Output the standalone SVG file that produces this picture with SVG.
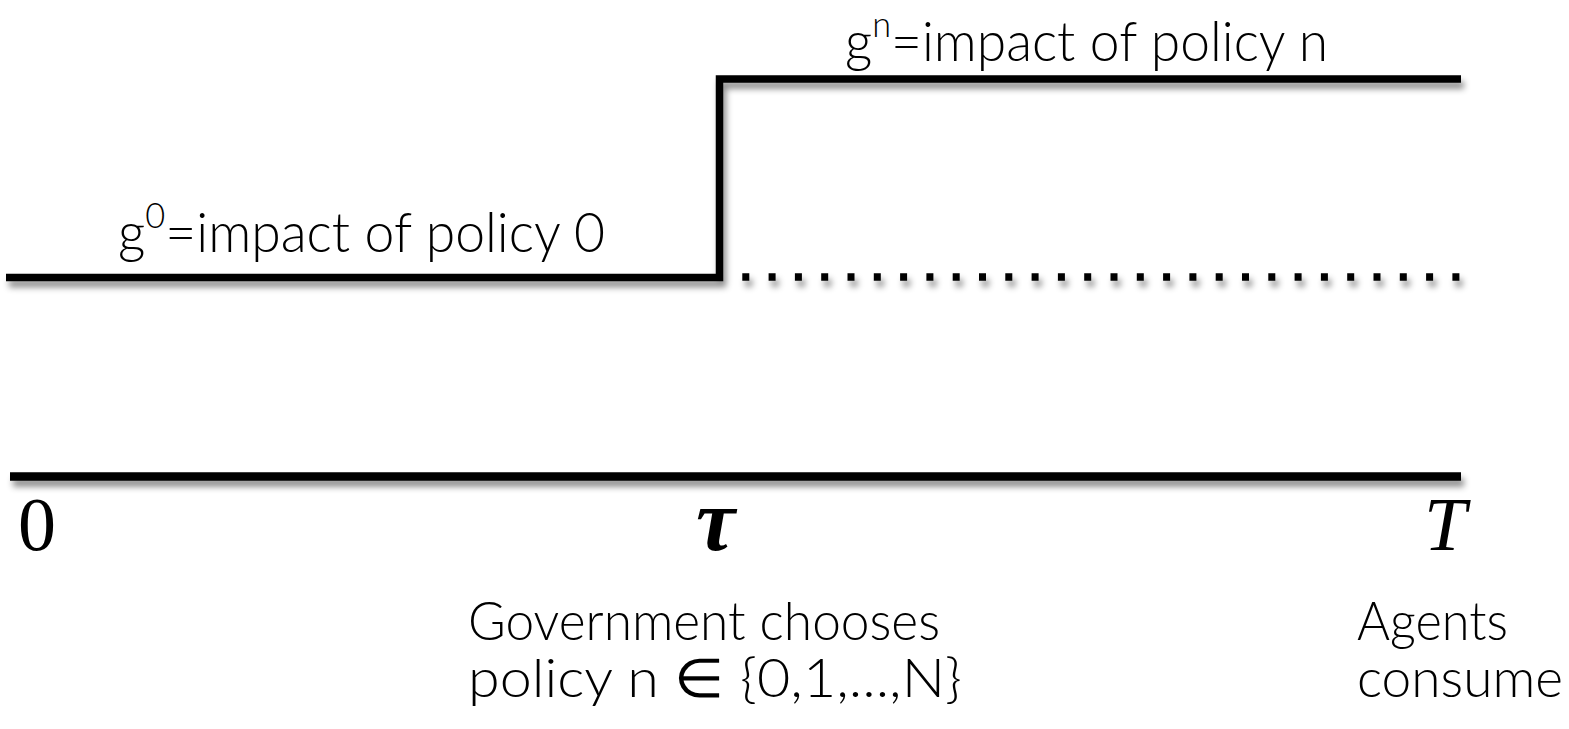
<svg xmlns="http://www.w3.org/2000/svg" width="1569" height="729" viewBox="0 0 1569 729">
<style>
.ln{fill:none;stroke:#000;stroke-linecap:butt;stroke-linejoin:miter;}
.lbl{font-family:"Lato","Liberation Sans",sans-serif;font-weight:300;font-size:56px;fill:#000;}
.sm{font-size:54px;}
.sup{font-size:36px;}
.ser{font-family:"Liberation Serif","DejaVu Serif",serif;fill:#000;}
</style>
<defs>
<filter id="sh" x="-5%" y="-20%" width="110%" height="160%">
<feDropShadow dx="3" dy="6" stdDeviation="3" flood-color="#000" flood-opacity="0.45"/>
</filter>
</defs>
<g id="connectors" filter="url(#sh)">
<path id="step" class="ln" stroke-width="7.5" d="M6,277.5 H719.5 V79 H1461"/>
<line id="dotted" class="ln" x1="716" y1="277" x2="1462" y2="277" stroke-width="7.5" stroke-dasharray="7 19.3"/>
<line id="axis" class="ln" x1="10" y1="476.5" x2="1461" y2="476.5" stroke-width="8.5"/>
</g>
<g id="label-g0">
<text class="lbl" x="118" y="252" textLength="487" lengthAdjust="spacingAndGlyphs">g<tspan class="sup" dy="-24">0</tspan><tspan dy="24">=impact of policy 0</tspan></text>
</g>
<g id="label-gn">
<text class="lbl" x="845" y="61" textLength="483" lengthAdjust="spacingAndGlyphs">g<tspan class="sup" dy="-24">n</tspan><tspan dy="24">=impact of policy n</tspan></text>
</g>
<g id="tick-0">
<text class="ser" x="18" y="550" font-size="76">0</text>
</g>
<g id="tick-tau">
<text class="ser" x="696" y="550" font-size="88" font-style="italic" font-weight="bold">τ</text>
</g>
<g id="tick-T">
<text class="ser" x="1424" y="550" font-size="76" font-style="italic">T</text>
</g>
<g id="label-gov">
<text class="lbl sm" x="468" y="640" textLength="472" lengthAdjust="spacingAndGlyphs">Government chooses</text>
<text class="lbl sm" x="468" y="697" textLength="494" lengthAdjust="spacingAndGlyphs">policy n  ∈ {0,1,...,N}</text>
</g>
<g id="label-agents">
<text class="lbl sm" x="1357" y="640" textLength="151" lengthAdjust="spacingAndGlyphs">Agents</text>
<text class="lbl sm" x="1357" y="697" textLength="206" lengthAdjust="spacingAndGlyphs">consume</text>
</g>
</svg>
